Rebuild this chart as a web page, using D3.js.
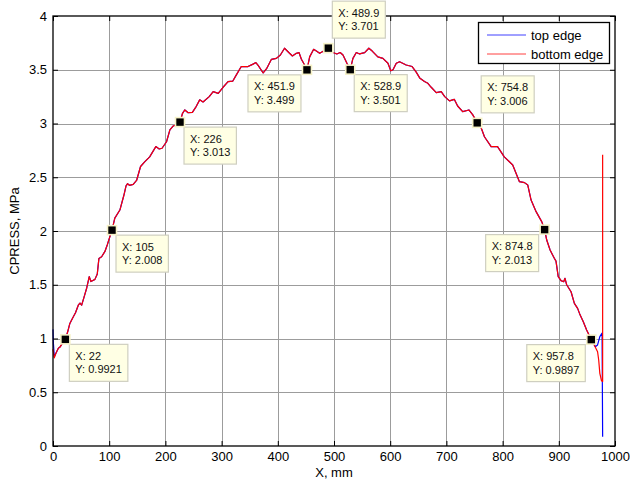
<!DOCTYPE html>
<html>
<head>
<meta charset="utf-8">
<script src="https://cdn.jsdelivr.net/npm/d3@7"></script>
<style>
  body { margin: 0; background: #fff; }
  svg { display: block; font-family: "Liberation Sans", Arial, sans-serif; }
</style>
</head>
<body>
<svg id="chart" width="630" height="481"></svg>
<script>
// values
const xTicks = [0, 100, 200, 300, 400, 500, 600, 700, 800, 900, 1000];
const yTicks = [0, 0.5, 1, 1.5, 2, 2.5, 3, 3.5, 4];

// both edges follow the same profile except at the two ends
const topStart = [[0, 1.085], [0.8, 0.95], [2.3, 0.83]];
const bottomStart = [[0, 0.9], [2.3, 0.82]];
const profile = [
  [5, 0.86], [9.5, 0.91], [12.4, 0.92], [16, 0.95], [22, 0.992], [26, 1.06], [30, 1.14],
  [35, 1.19], [40, 1.24], [45, 1.31], [48, 1.33], [51, 1.31], [55, 1.38], [60, 1.47],
  [64.5, 1.575], [67.5, 1.53], [71, 1.54], [74.6, 1.55], [78.8, 1.6], [81.7, 1.745],
  [86.5, 1.76], [92.4, 1.81], [96.5, 1.87], [99.5, 1.92], [105, 2.008], [110, 2.12],
  [119, 2.195], [126, 2.33], [130, 2.42], [132.7, 2.44], [136, 2.425], [142.7, 2.434],
  [148.7, 2.47], [155.8, 2.6], [163.5, 2.645], [172, 2.69], [183, 2.785], [189, 2.763],
  [194, 2.77], [202, 2.83], [208, 2.94], [214, 2.977], [220, 2.99], [226, 3.013],
  [230.5, 3.095], [234.6, 3.126], [240.5, 3.1], [248, 3.104], [255, 3.16], [261, 3.22],
  [267, 3.2], [278, 3.25], [285, 3.296], [294, 3.28], [302.6, 3.337], [311.5, 3.389],
  [320, 3.395], [326, 3.45], [335, 3.53], [347, 3.53], [355, 3.55], [361, 3.566],
  [365, 3.54], [374, 3.47], [380, 3.51], [388.7, 3.597], [397.5, 3.606], [404.6, 3.637],
  [412, 3.7], [420, 3.658], [426, 3.628], [433, 3.653], [437.7, 3.66], [442, 3.597],
  [446, 3.56], [451.9, 3.499], [456.7, 3.62], [463.8, 3.69], [468.6, 3.674], [474.5, 3.653],
  [480, 3.67], [489.9, 3.701], [495, 3.668], [505, 3.647], [511, 3.66], [516, 3.637],
  [523, 3.56], [528.9, 3.501], [533.7, 3.606], [539.7, 3.66], [545.6, 3.647], [554.5, 3.66],
  [562, 3.7], [568, 3.674], [578, 3.62], [587, 3.606], [596, 3.56], [601, 3.49],
  [605, 3.5], [610.8, 3.56], [616.7, 3.575], [628.5, 3.544], [639, 3.53], [646, 3.48],
  [653, 3.42], [661, 3.39], [667, 3.374], [673, 3.337], [682, 3.287], [690.8, 3.296],
  [697, 3.25], [705.5, 3.21], [714, 3.225], [720, 3.163], [729, 3.11], [740, 3.126],
  [747, 3.08], [754.8, 3.006], [760, 2.986], [767.7, 2.877], [779.6, 2.785], [791, 2.785],
  [803, 2.69], [818, 2.614], [830, 2.459], [839, 2.45], [844.7, 2.428], [850.7, 2.288],
  [859.6, 2.18], [869.6, 2.087], [874.8, 2.013], [878.5, 1.916], [884.5, 1.823],
  [892, 1.746], [895, 1.72], [899, 1.575], [904, 1.538], [908.7, 1.528], [911, 1.56],
  [914, 1.5], [921.8, 1.435], [927.7, 1.327], [933.5, 1.28], [937.8, 1.22],
  [943.6, 1.156], [949.5, 1.08], [957.8, 0.99]
];
const topEnd = [[965, 0.924], [969, 0.94], [973, 1.017], [977, 1.05], [978, 0.087]];
const bottomEnd = [[963, 0.94], [969, 0.877], [971, 0.8], [973, 0.676], [976, 0.607], [978, 0.6], [978, 2.71]];

const topEdge = topStart.concat(profile, topEnd);
const bottomEdge = bottomStart.concat(profile, bottomEnd);

const seriesNames = ['top edge', 'bottom edge'];
const seriesColors = ['#0000ff', '#ff0000'];

// data tips
const tipX = [22, 105, 226, 451.9, 489.9, 528.9, 754.8, 874.8, 957.8];
const tipY = [0.9921, 2.008, 3.013, 3.499, 3.701, 3.501, 3.006, 2.013, 0.9897];
const tipSide = ['se', 'se', 'se', 'sw', 'ne', 'se', 'ne', 'sw', 'sw'];

const svg = d3.select('#chart');
const plotLeft = 53, plotRight = 615, plotTop = 16, plotBottom = 446;

const xScale = d3.scaleLinear().domain([0, 1000]).range([plotLeft, plotRight]);
const yScale = d3.scaleLinear().domain([0, 4]).range([plotBottom, plotTop]);

/**
 * Draws the grey grid behind the curves.
 */
function drawGrid() {
  const g = svg.append('g').attr('stroke', '#9c9c9c').attr('stroke-width', 1);
  g.selectAll('.vgrid').data(xTicks.slice(1, -1)).enter().append('line')
    .attr('x1', d => Math.round(xScale(d)) + 0.5).attr('x2', d => Math.round(xScale(d)) + 0.5)
    .attr('y1', plotTop).attr('y2', plotBottom);
  g.selectAll('.hgrid').data(yTicks.slice(1, -1)).enter().append('line')
    .attr('y1', d => Math.round(yScale(d)) + 0.5).attr('y2', d => Math.round(yScale(d)) + 0.5)
    .attr('x1', plotLeft).attr('x2', plotRight);
}

/**
 * Draws one edge as a line.
 */
function drawEdge(data, color) {
  const line = d3.line().x(d => xScale(d[0])).y(d => yScale(d[1]));
  svg.append('path').datum(data)
    .attr('fill', 'none')
    .attr('stroke', color)
    .attr('stroke-width', 1.2)
    .attr('stroke-linejoin', 'round')
    .attr('d', line);
}

/**
 * Axes on all four sides, ticks pointing inside, labels at bottom and left.
 */
function drawAxes() {
  const fontSize = '13px';
  const bx = svg.append('g').attr('transform', `translate(0,${plotBottom})`)
    .call(d3.axisBottom(xScale).tickValues(xTicks).tickFormat(d3.format('d')).tickSizeInner(-5).tickSizeOuter(0).tickPadding(6));
  const tx = svg.append('g').attr('transform', `translate(0,${plotTop})`)
    .call(d3.axisTop(xScale).tickValues(xTicks).tickFormat('').tickSizeInner(-5).tickSizeOuter(0));
  const ly = svg.append('g').attr('transform', `translate(${plotLeft},0)`)
    .call(d3.axisLeft(yScale).tickValues(yTicks).tickFormat(d => String(d)).tickSizeInner(-5).tickSizeOuter(0).tickPadding(6));
  const ry = svg.append('g').attr('transform', `translate(${plotRight},0)`)
    .call(d3.axisRight(yScale).tickValues(yTicks).tickFormat('').tickSizeInner(-5).tickSizeOuter(0));
  [bx, tx, ly, ry].forEach(g => {
    g.select('.domain').remove();
    g.selectAll('line').attr('stroke', '#000');
    g.selectAll('text').attr('fill', '#000').style('font-size', fontSize).attr('font-family', null);
  });

  svg.append('rect')
    .attr('x', plotLeft).attr('y', plotTop)
    .attr('width', plotRight - plotLeft).attr('height', plotBottom - plotTop)
    .attr('fill', 'none').attr('stroke', '#000').attr('stroke-width', 1.3);

  svg.append('text')
    .attr('x', (plotLeft + plotRight) / 2).attr('y', 477)
    .attr('text-anchor', 'middle').style('font-size', fontSize)
    .text('X, mm');
  svg.append('text')
    .attr('transform', `translate(19,${(plotTop + plotBottom) / 2}) rotate(-90)`)
    .attr('text-anchor', 'middle').style('font-size', fontSize)
    .text('CPRESS, MPa');
}

/**
 * MATLAB-like data tips: a black square and a pale yellow label box.
 */
function drawTips() {
  tipX.forEach((xv, i) => {
    const px = xScale(xv), py = yScale(tipY[i]);
    const g = svg.append('g');
    const box = g.append('rect')
      .attr('fill', '#ffffe4').attr('stroke', '#cfcfc0').attr('stroke-width', 1.2);
    const t1 = g.append('text').style('font-size', '11px').attr('fill', '#111').text('X: ' + String(xv));
    const t2 = g.append('text').style('font-size', '11px').attr('fill', '#111').text('Y: ' + String(tipY[i]));
    const w = Math.max(t1.node().getComputedTextLength(), t2.node().getComputedTextLength()) + 12;
    const h = 37;
    let bx, by;
    if (tipSide[i] === 'se') { bx = px + 4; by = py + 5; }
    else if (tipSide[i] === 'sw') { bx = px - 6 - w; by = py + 5; }
    else { bx = px + 4; by = py - 10 - h; }
    box.attr('x', bx).attr('y', by).attr('width', w).attr('height', h);
    t1.attr('x', bx + 6).attr('y', by + 15.5);
    t2.attr('x', bx + 6).attr('y', by + 29);
    svg.append('rect')
      .attr('x', px - 4.5).attr('y', py - 4.5).attr('width', 9).attr('height', 9)
      .attr('fill', '#000').attr('stroke', '#f6f2c8').attr('stroke-width', 1.6);
  });
}

/**
 * Legend box in the top right corner.
 */
function drawLegend() {
  const g = svg.append('g');
  g.append('rect')
    .attr('x', 478.5).attr('y', 22.5).attr('width', 131).attr('height', 41)
    .attr('fill', '#fff').attr('stroke', '#000').attr('stroke-width', 1.3);
  seriesNames.forEach((name, i) => {
    const yy = 35 + i * 19;
    g.append('line').attr('x1', 487).attr('x2', 526).attr('y1', yy).attr('y2', yy)
      .attr('stroke', seriesColors[i]).attr('stroke-width', 1).attr('stroke-opacity', 0.75);
    g.append('text').attr('x', 531).attr('y', yy + 4.5).style('font-size', '13px').text(name);
  });
}

drawGrid();
drawEdge(topEdge, seriesColors[0]);
drawEdge(bottomEdge, seriesColors[1]);
drawAxes();
drawTips();
drawLegend();
</script>
</body>
</html>
